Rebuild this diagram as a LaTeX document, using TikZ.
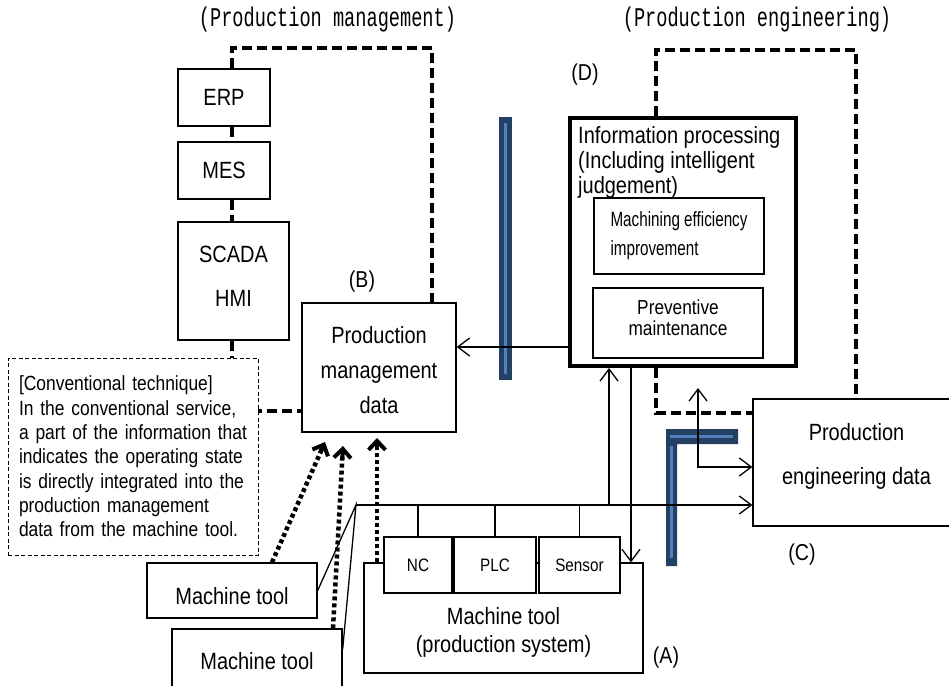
\documentclass[tikz,border=0pt]{standalone}
\usepackage{fontspec}
\setmainfont[FakeStretch=0.85]{Liberation Sans}
\newfontfamily\titlefont[FakeStretch=0.69]{Liberation Mono}
\newfontfamily\narrowfont[FakeStretch=0.74]{Liberation Sans}
\usetikzlibrary{arrows.meta,calc}
\definecolor{navy}{RGB}{36,64,98}
\definecolor{lightbar}{RGB}{79,129,189}
\tikzset{
  box/.style={draw, line width=1.3pt, fill=white, inner sep=0pt, align=center,
    font=\fontsize{23.5pt}{35pt}\selectfont},
  smallbox/.style={box, font=\fontsize{18pt}{22pt}\selectfont},
  infobox/.style={draw, line width=4pt, fill=white, inner sep=0pt},
  convbox/.style={draw, line width=1pt, dash pattern=on 4pt off 2.5pt, fill=white, inner sep=0pt,
    align=left, font=\fontsize{20.5pt}{24.3pt}\selectfont},
  heavydash/.style={line width=4pt, dash pattern=on 10pt off 5pt},
  thinline/.style={line width=1.3pt},
  arr/.style={thinline, -{Straight Barb[length=12pt,width=18pt]}},
  dotshaft/.style={line width=4.5pt, dash pattern=on 4pt off 3pt},
  dothead/.style={line width=4pt, -{Straight Barb[length=9pt,width=17pt,line width=4pt]}},
  tag/.style={font=\fontsize{23pt}{28pt}\selectfont, inner sep=0pt},
  title/.style={font=\titlefont\fontsize{27pt}{30pt}\selectfont, inner sep=0pt},
  barfill/.style={fill=navy},
  barline/.style={draw=lightbar, line width=2.5pt}
}
\begin{document}
\begin{tikzpicture}[x=1pt,y=-1pt]
\useasboundingbox (0,0) rectangle (949,685);
\clip (0,0) rectangle (949,685);
\fill[white] (0,0) rectangle (949,685);

% titles
\node[title] (t1) at (327.5,20) {(Production management)};
\node[title] (t2) at (757,20) {(Production engineering)};

% blue separator bars
\fill[barfill] (499,117) rectangle (512,380);
\draw[barline] (505.5,123) -- (505.5,374);
\fill[barfill] (666,429) -- (738,429) -- (738,444) -- (677,444) -- (677,566) -- (666,566) -- cycle;
\draw[barline] (671.5,558) -- (671.5,446);
\draw[barline] (670,436.5) -- (733,436.5);

% left column boxes
\node[box, minimum width=92pt, minimum height=57pt] (erp) at (224,97.5) {ERP};
\node[box, minimum width=92pt, minimum height=57pt] (mes) at (224,170.5) {MES};
\node[box, minimum width=111pt, minimum height=118pt, text depth=10pt, font=\fontsize{23.5pt}{44pt}\selectfont] (scada) at (233.5,281) {SCADA\\HMI};
\node[box, minimum width=154pt, minimum height=129pt, text height=93pt] (pmd) at (379,367.5) {Production\\management\\data};
\node[tag] (lb) at (362,282) {(B)};

% production management dashed loop
\coordinate (pmTL) at (232,48);
\coordinate (pmTR) at (432,48);
\coordinate (pmBL) at (232,411);
\draw[heavydash] (erp.north -| pmTL) -- (pmTL) -- (pmTR) -- (pmd.north -| pmTR);
\draw[heavydash] (erp.south -| pmTL) -- (mes.north -| pmTL);
\draw[heavydash] (mes.south -| pmTL) -- (scada.north -| pmTL);
\draw[heavydash] (scada.south -| pmBL) -- (pmBL) -- (pmd.west |- pmBL);

% conventional technique note
\node[convbox, minimum width=250pt, minimum height=197pt, text width=228pt] (conv) at (133,456.5)
  {[Conventional technique]\\In the conventional service,\\a part of the information that\\indicates the operating state\\is directly integrated into the\\production management\\data from the machine tool.};

% information processing
\node[infobox, minimum width=226pt, minimum height=248pt] (info) at (683,242) {};
\node[anchor=north west, inner sep=0pt, align=left, font=\fontsize{23.5pt}{25pt}\selectfont] (infotext) at (578,126)
  {Information processing\\(Including intelligent\\judgement)};
\node[box, minimum width=170pt, minimum height=76pt, align=left, font=\narrowfont\fontsize{20.6pt}{29pt}\selectfont] (meff) at (679,236) {Machining efficiency\\improvement};
\node[box, minimum width=170pt, minimum height=70pt, text depth=11pt, font=\fontsize{20.3pt}{21pt}\selectfont] (prev) at (678,323) {Preventive\\maintenance};
\node[tag] (ld) at (585,75) {(D)};

% production engineering data
\node[box, minimum width=207pt, minimum height=127pt, text depth=17pt, font=\fontsize{23.5pt}{44pt}\selectfont] (ped) at (856.5,462.5) {Production\\engineering data};
\node[tag] (lc) at (802,555) {(C)};

% production engineering dashed loop
\coordinate (peTL) at (656,50);
\coordinate (peTR) at (856,50);
\coordinate (peBL) at (656,413);
\draw[heavydash] (info.north -| peTL) -- (peTL) -- (peTR) -- (ped.north -| peTR);
\draw[heavydash] (info.south -| peBL) -- (peBL) -- (ped.west |- peBL);

% machine tools
\node[box, minimum width=279pt, minimum height=110pt, text height=74pt, font=\fontsize{23.5pt}{28pt}\selectfont] (mtps) at (503.5,618) {Machine tool\\(production system)};
\node[smallbox, minimum width=68pt, minimum height=56pt] (nc) at (418,565) {NC};
\node[smallbox, minimum width=82pt, minimum height=56pt] (plc) at (495,565) {PLC};
\node[smallbox, minimum width=81pt, minimum height=56pt] (sensor) at (579.5,565) {Sensor};
\node[tag] (la) at (666,658) {(A)};
\node[box, minimum width=170pt, minimum height=55pt, text height=28.2pt] (mt1) at (232,590.5) {Machine tool};
\node[box, minimum width=170pt, minimum height=64pt] (mt2) at (257,661) {Machine tool};

% bus and solid connectors
\coordinate (busL) at (356,505);
\coordinate (ipm) at (530,347);
\coordinate (upx) at (609,505);
\coordinate (dnx) at (631,450);
\coordinate (pj) at (698,467);
\coordinate (pjt) at (698,388);
\draw[arr] (info.west |- ipm) -- (pmd.east |- ipm);
\draw[arr] (busL) -- (ped.west |- busL);
\draw[thinline] (mt1.east) -- (busL) -- ([yshift=-21pt]mt2.north east);
\draw[thinline] (nc.north) -- (nc.north |- busL);
\draw[thinline] (plc.north) -- (plc.north |- busL);
\draw[thinline] (sensor.north) -- (sensor.north |- busL);
\draw[arr] (upx) -- (info.south -| upx);
\draw[arr] (info.south -| dnx) -- (mtps.north -| dnx);
\draw[thinline, {Straight Barb[length=12pt,width=18pt]}-{Straight Barb[length=12pt,width=18pt]}] (pjt) -- (pj) -- (ped.west |- pj);

% dotted arrows (conventional direct integration)
\coordinate (s1) at ([xshift=40pt]mt1.north);
\coordinate (s2) at ([xshift=76pt]mt2.north);
\coordinate (s3) at (mtps.north -| 377,0);
\coordinate (d1) at (325,442);
\coordinate (d2) at (343,446);
\coordinate (d3) at (377,438);
\draw[dotshaft] (s1) -- ($(d1)!7pt!(s1)$);
\draw[dotshaft] (s2) -- ($(d2)!7pt!(s2)$);
\draw[dotshaft] (s3) -- ($(d3)!7pt!(s3)$);
\draw[dothead] ($(d1)!12pt!(s1)$) -- (d1);
\draw[dothead] ($(d2)!12pt!(s2)$) -- (d2);
\draw[dothead] ($(d3)!12pt!(s3)$) -- (d3);
\end{tikzpicture}
\end{document}
